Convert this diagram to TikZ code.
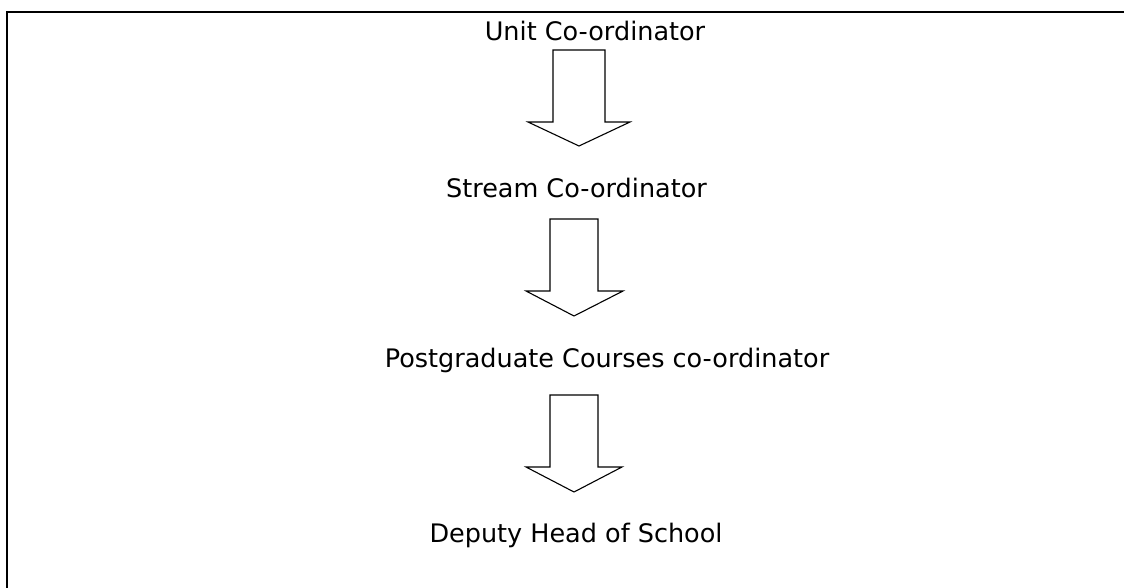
\documentclass[tikz,border=0pt]{standalone}
\usepackage{fontspec}
\setmainfont{DejaVu Sans}
\begin{document}
\begin{tikzpicture}[x=1pt,y=-1pt,
  label/.style={anchor=base,inner sep=0pt,font=\fontsize{25.5}{30}\selectfont},
  blockarrow/.style={draw=black,line width=1.1pt,fill=white,line join=miter},
  frameline/.style={draw=black,line width=1.7pt}]
\useasboundingbox (0,0) rectangle (1124,588);
\fill[white] (0,0) rectangle (1124,588);
\draw[frameline] (7,588) -- (7,12) -- (1124,12);
\node[label] (unit) at (595,41) {Unit Co-ordinator};
\node[label] (stream) at (576.5,197) {Stream Co-ordinator};
\node[label] (pg) at (607,367) {Postgraduate Courses co-ordinator};
\node[label] (dep) at (576,542) {Deputy Head of School};
\draw[blockarrow] (553,50) -- (605,50) -- (605,122) -- (630,122) -- (579,146) -- (528,122) -- (553,122) -- cycle;
\draw[blockarrow] (550,219) -- (598,219) -- (598,291) -- (623,291) -- (574,316) -- (526,291) -- (550,291) -- cycle;
\draw[blockarrow] (550,395) -- (598,395) -- (598,467) -- (622,467) -- (574,492) -- (526,467) -- (550,467) -- cycle;
\end{tikzpicture}
\end{document}
